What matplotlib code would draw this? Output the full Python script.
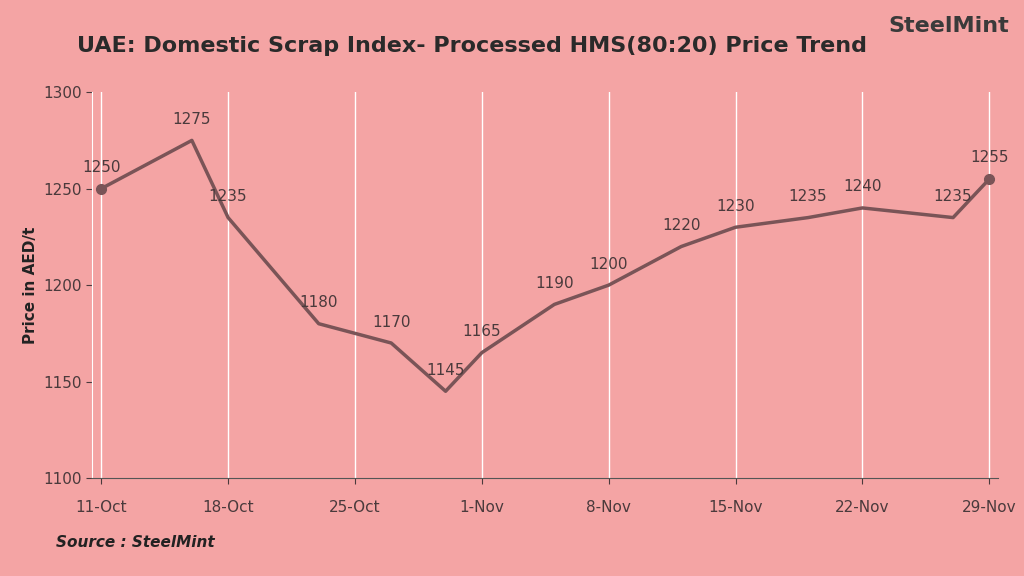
import numpy as np
import matplotlib.pyplot as plt
import matplotlib.dates as mdates
import datetime as dt

dates = ["2021-10-11", "2021-10-16", "2021-10-18", "2021-10-23", "2021-10-27", "2021-10-30",
         "2021-11-01", "2021-11-05", "2021-11-08", "2021-11-12", "2021-11-15", "2021-11-19",
         "2021-11-22", "2021-11-27", "2021-11-29"]
prices = [1250, 1275, 1235, 1180, 1170, 1145, 1165, 1190, 1200, 1220, 1230, 1235, 1240, 1235, 1255]
tick_dates = ["2021-10-11", "2021-10-18", "2021-10-25", "2021-11-01", "2021-11-08",
              "2021-11-15", "2021-11-22", "2021-11-29"]
tick_labels = ["11-Oct", "18-Oct", "25-Oct", "1-Nov", "8-Nov", "15-Nov", "22-Nov", "29-Nov"]

bg = "#f4a4a4"
line_c = "#7a5457"
x = [dt.datetime.strptime(d, "%Y-%m-%d") for d in dates]
xt = [dt.datetime.strptime(d, "%Y-%m-%d") for d in tick_dates]

fig = plt.figure(figsize=(10.24, 5.76), dpi=100, facecolor=bg)
ax = fig.add_axes([0.09, 0.17, 0.885, 0.67], facecolor=bg)
ax.plot(x, prices, color=line_c, lw=2.5)
ax.plot([x[0], x[-1]], [prices[0], prices[-1]], "o", color=line_c, ms=7)
for xi, p in zip(x, prices):
    ax.text(xi, p + 7, str(p), ha="center", va="bottom", fontsize=11, color="#4a3a3c")

ax.set_ylim(1100, 1300)
ax.set_yticks([1100, 1150, 1200, 1250, 1300])
ax.set_xlim(x[0] - dt.timedelta(days=0.5), x[-1] + dt.timedelta(days=0.5))
ax.set_xticks(xt)
ax.set_xticklabels(tick_labels)
ax.tick_params(colors="#4a3a3c", labelsize=11, length=4)
ax.tick_params(axis="x", pad=12)
ax.grid(axis="x", color="white", lw=1)
for s in ax.spines.values():
    s.set_visible(False)
ax.spines["bottom"].set_visible(True)
ax.spines["bottom"].set_color("#555555")
ax.spines["left"].set_visible(True)
ax.spines["left"].set_color("white")
ax.set_ylabel("Price in AED/t", fontsize=11, fontweight="bold", color="#222222")

fig.text(0.075, 0.92, "UAE: Domestic Scrap Index- Processed HMS(80:20) Price Trend",
         fontsize=16, fontweight="bold", color="#2a2a2a", va="center")
fig.text(0.985, 0.955, "SteelMint", fontsize=16, fontweight="bold", color="#3a3a3a",
         ha="right", va="center")
fig.text(0.055, 0.05, "Source : SteelMint", fontsize=11, fontweight="bold",
         fontstyle="italic", color="#222222")
fig.savefig("out.png", dpi=100, facecolor=bg)
